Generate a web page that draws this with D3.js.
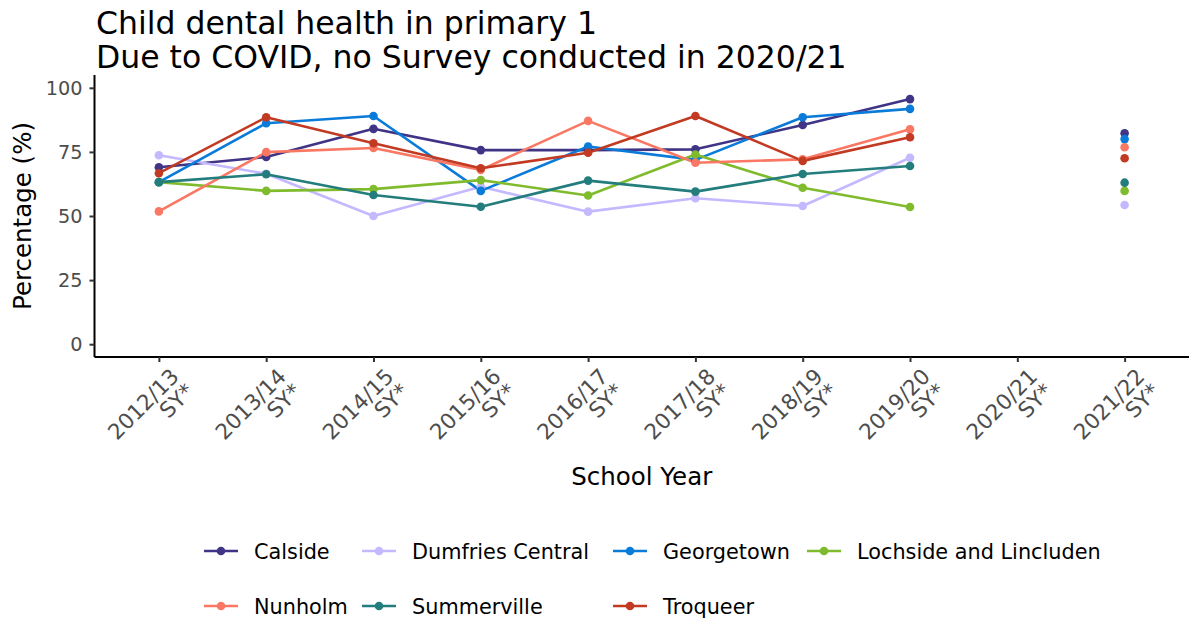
<!DOCTYPE html>
<html>
<head>
<meta charset="utf-8">
<script src="https://cdn.jsdelivr.net/npm/d3@7"></script>
<style>
  html, body { margin: 0; padding: 0; background: #ffffff; }
  svg { display: block; font-family: "DejaVu Sans", sans-serif; }
</style>
</head>
<body>
<svg id="chart" width="1189" height="619"></svg>
<script>
// ---- data ----
const years = ["2012/13", "2013/14", "2014/15", "2015/16", "2016/17", "2017/18", "2018/19", "2019/20", "2020/21", "2021/22"];
const yTicks = [0, 25, 50, 75, 100];
const seriesNames = ["Calside", "Dumfries Central", "Georgetown", "Lochside and Lincluden", "Nunholm", "Summerville", "Troqueer"];
const calside      = [69.0, 73.0, 84.0, 75.7, 75.7, 76.0, 85.5, 95.6, null, 82.3];
const dumfries     = [73.7, 66.5, 50.0, 61.4, 51.7, 56.9, 53.9, 72.7, null, 54.3];
const georgetown   = [63.2, 86.2, 89.0, 59.8, 77.1, 71.9, 88.5, 91.8, null, 80.0];
const lochside     = [63.2, 59.8, 60.5, 64.0, 58.0, 74.0, 61.0, 53.5, null, 59.8];
const nunholm      = [51.8, 74.9, 76.5, 68.0, 87.1, 70.8, 72.1, 83.8, null, 76.8];
const summerville  = [63.2, 66.3, 58.2, 53.6, 63.8, 59.5, 66.4, 69.5, null, 63.0];
const troqueer     = [66.7, 88.5, 78.4, 68.6, 74.7, 89.0, 71.5, 80.7, null, 72.5];
const seriesValues = [calside, dumfries, georgetown, lochside, nunholm, summerville, troqueer];
const colors = ["#3F3485", "#C4B8FF", "#0A7BD8", "#80BB2E", "#FA7863", "#237D7C", "#C23A22"];

// ---- layout ----
const svg = d3.select("#chart");
const panel = { left: 94.5, right: 1189, top: 75, bottom: 357 };

const x = d3.scalePoint().domain(years).range([panel.left, panel.right]).padding(0.6);
const y = d3.scaleLinear().domain([-5, 105]).range([panel.bottom, panel.top]);

// title
const title = svg.append("text").attr("x", 96).attr("y", 34)
  .style("font-size", "31.5px").attr("fill", "#000");
title.append("tspan").attr("x", 96).text("Child dental health in primary 1");
title.append("tspan").attr("x", 96).attr("y", 68).text("Due to COVID, no Survey conducted in 2020/21");

// y axis
const yAxis = svg.append("g").attr("transform", `translate(${panel.left},0)`)
  .call(d3.axisLeft(y).tickValues(yTicks).tickSize(5).tickPadding(7));
yAxis.select(".domain").attr("d", `M0,${panel.top}V${panel.bottom}`).attr("stroke", "#000").attr("stroke-width", 2);
yAxis.selectAll(".tick line").attr("stroke", "#333").attr("stroke-width", 2);
yAxis.selectAll(".tick text").style("font-size", "19.3px").attr("fill", "#4D4D4D")
  .style("font-family", "DejaVu Sans, sans-serif");

// x axis
const xAxis = svg.append("g").attr("transform", `translate(0,${panel.bottom})`)
  .call(d3.axisBottom(x).tickSize(5).tickFormat(""));
xAxis.select(".domain").attr("d", `M${panel.left},0H${panel.right}`).attr("stroke", "#000").attr("stroke-width", 2);
xAxis.selectAll(".tick line").attr("stroke", "#333").attr("stroke-width", 2);
xAxis.selectAll(".tick text").remove();
xAxis.selectAll(".tick").each(function(d) {
  const g = d3.select(this).append("g").attr("transform", "translate(9,9) rotate(-45)");
  const t = g.append("text").attr("text-anchor", "end").attr("fill", "#4D4D4D")
    .style("font-size", "21.5px").style("font-family", "DejaVu Sans, sans-serif");
  t.append("tspan").attr("x", 0).attr("dy", "0.78em").text(d);
  t.append("tspan").attr("x", 0).attr("dy", "0.98em").text("SY*");
});

// axis titles
svg.append("text").attr("transform", `translate(31,${(panel.top + panel.bottom) / 2}) rotate(-90)`)
  .attr("text-anchor", "middle").style("font-size", "24.5px").attr("fill", "#000").text("Percentage (%)");
svg.append("text").attr("x", (panel.left + panel.right) / 2).attr("y", 485)
  .attr("text-anchor", "middle").style("font-size", "24.5px").attr("fill", "#000").text("School Year");

// lines & points
const line = d3.line().defined(d => d.v !== null).x(d => x(d.year)).y(d => y(d.v));
const seriesData = seriesNames.map((name, i) => ({
  name, color: colors[i],
  points: years.map((yr, j) => ({ year: yr, v: seriesValues[i][j] }))
}));
const plot = svg.append("g");
plot.selectAll("path.series").data(seriesData).enter().append("path")
  .attr("class", "series").attr("fill", "none").attr("stroke", d => d.color)
  .attr("stroke-width", 2.6).attr("stroke-linejoin", "round")
  .attr("d", d => line(d.points));
seriesData.forEach(s => {
  plot.selectAll(null).data(s.points.filter(p => p.v !== null)).enter().append("circle")
    .attr("cx", p => x(p.year)).attr("cy", p => y(p.v)).attr("r", 4.3).attr("fill", s.color);
});

// legend
const colX = [204, 362, 613, 807];
const rowY = [551, 606];
const legend = svg.append("g");
seriesData.forEach((s, i) => {
  const col = i % 4, row = Math.floor(i / 4);
  const g = legend.append("g").attr("transform", `translate(${colX[col]},${rowY[row]})`);
  g.append("line").attr("x1", 0).attr("x2", 34).attr("y1", 0).attr("y2", 0)
    .attr("stroke", s.color).attr("stroke-width", 2.6);
  g.append("circle").attr("cx", 17).attr("cy", 0).attr("r", 4.3).attr("fill", s.color);
  g.append("text").attr("x", 50).attr("y", 0).attr("dy", "0.36em")
    .style("font-size", "20.8px").attr("fill", "#000").text(s.name);
});
</script>
</body>
</html>
